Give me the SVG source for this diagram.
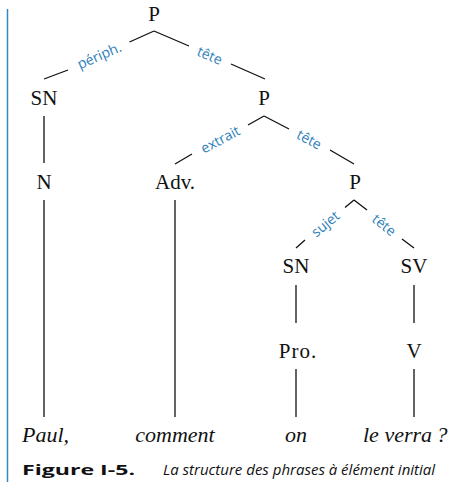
<svg xmlns="http://www.w3.org/2000/svg" width="452" height="482" viewBox="0 0 452 482">
  <style>
    .node { font-family: "Liberation Serif", "DejaVu Serif", serif; font-size: 21px; fill: #111; text-anchor: middle; }
    .word { font-family: "Liberation Serif", "DejaVu Serif", serif; font-size: 22px; font-style: italic; fill: #111; }
    .lab { font-family: "Open Sans", "Noto Sans", sans-serif; font-size: 14px; fill: #2f80b8; text-anchor: middle; dominant-baseline: central; }
    .edge { stroke: #111; stroke-width: 1.3; fill: none; }
    .cap { font-family: "Open Sans", "Noto Sans", sans-serif; font-size: 15px; fill: #111; }
  </style>
  <rect width="452" height="482" fill="#fff"/>
  <!-- margin rule -->
  <line x1="7.5" y1="9" x2="7.5" y2="482" stroke="#3a87c0" stroke-width="1.5"/>

  <g id="connectors">
    <!-- P (root) -->
    <path class="edge" d="M154 31 L129.5 42 M68 70 L44 79"/>
    <path class="edge" d="M154 31 L189 46 M231 64 L265 79"/>
    <!-- P (second) -->
    <path class="edge" d="M264 116 L248 125 M192 154 L175 164"/>
    <path class="edge" d="M264 116 L289 129 M330 150 L354 164"/>
    <!-- P (third) -->
    <path class="edge" d="M354 200 L345 207.5 M305 240 L296 248"/>
    <path class="edge" d="M354 200 L367 210 M402 239 L414 248"/>
    <!-- unary branches -->
    <path class="edge" d="M44 116 V163 M44 200 V417 M175 200 V417"/>
    <path class="edge" d="M296 285 V323 M296 369 V417 M414 285 V323 M414 369 V417"/>
    <!-- branch labels -->
    <text class="lab" transform="translate(99 55) rotate(-23.6)">périph.</text>
    <text class="lab" transform="translate(210 55) rotate(23.4)">tête</text>
    <text class="lab" transform="translate(220 139) rotate(-28.3)">extrait</text>
    <text class="lab" transform="translate(309.5 139) rotate(28)">tête</text>
    <text class="lab" transform="translate(325 223.5) rotate(-39.6)">sujet</text>
    <text class="lab" transform="translate(384.5 224.5) rotate(38.7)">tête</text>
  </g>

  <g id="n-p1"><text class="node" x="154" y="21">P</text></g>
  <g id="n-sn1"><text class="node" x="44" y="105">SN</text></g>
  <g id="n-p2"><text class="node" x="264" y="105">P</text></g>
  <g id="n-n"><text class="node" x="44" y="189">N</text></g>
  <g id="n-adv"><text class="node" x="175" y="189">Adv.</text></g>
  <g id="n-p3"><text class="node" x="355" y="189">P</text></g>
  <g id="n-sn2"><text class="node" x="296" y="273">SN</text></g>
  <g id="n-sv"><text class="node" x="414" y="273">SV</text></g>
  <g id="n-pro"><text class="node" x="298" y="358" letter-spacing="1">Pro.</text></g>
  <g id="n-v"><text class="node" x="414" y="358">V</text></g>

  <g id="w-paul"><text class="word" x="22" y="442">Paul,</text></g>
  <g id="w-comment"><text class="word" x="175" y="442" text-anchor="middle">comment</text></g>
  <g id="w-on"><text class="word" x="296" y="442" text-anchor="middle">on</text></g>
  <g id="w-verra"><text class="word" x="363" y="442">le verra&#8239;?</text></g>

  <text class="cap" x="22" y="475" font-weight="bold" font-size="19" textLength="113" lengthAdjust="spacingAndGlyphs">Figure I-5.</text>
  <text class="cap" x="163" y="475" font-style="italic">La structure des phrases à élément initial</text>
</svg>
